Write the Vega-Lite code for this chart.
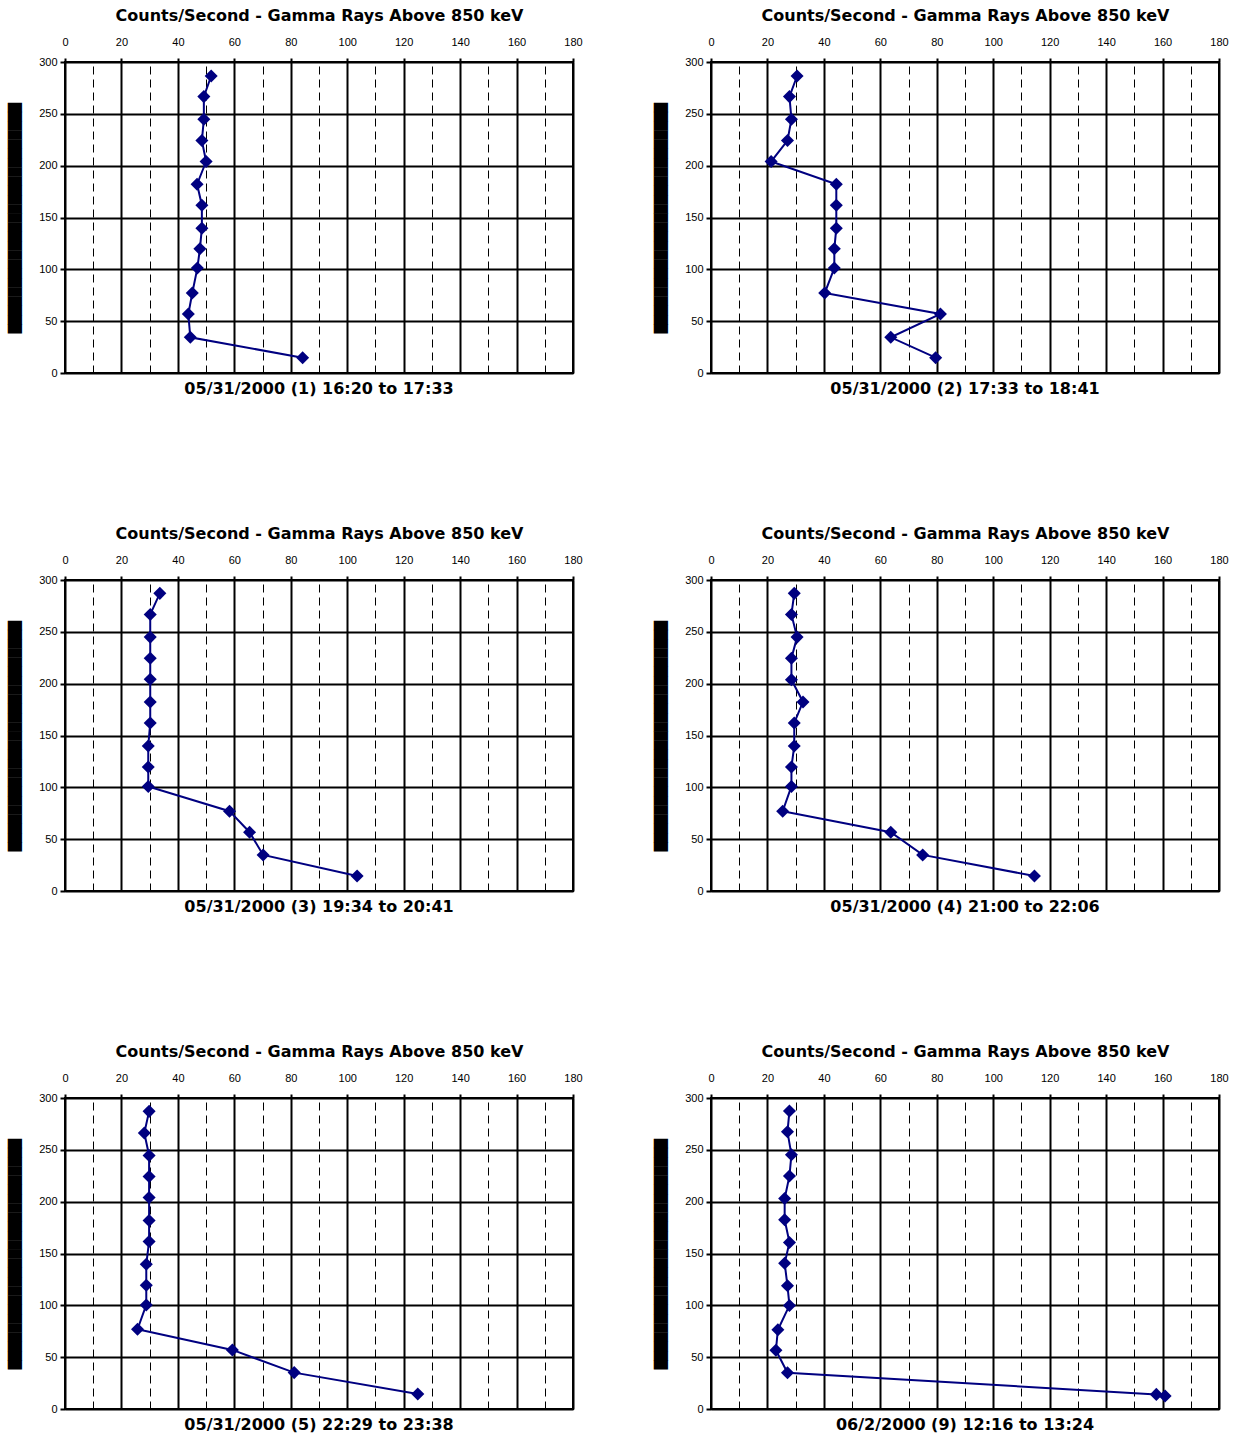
{
  "$schema": "https://vega.github.io/schema/vega-lite/v6.json",
  "background": "white",
  "padding": {"left": 7, "top": 6, "right": 5, "bottom": 2},
  "datasets": {
    "profiles": [
      {"panel": "05/31/2000 (1)  16:20 to 17:33", "seq": 1, "altitude": 286.5, "counts": 51.8},
      {"panel": "05/31/2000 (1)  16:20 to 17:33", "seq": 2, "altitude": 266.6, "counts": 49.2},
      {"panel": "05/31/2000 (1)  16:20 to 17:33", "seq": 3, "altitude": 244.8, "counts": 49.2},
      {"panel": "05/31/2000 (1)  16:20 to 17:33", "seq": 4, "altitude": 224.2, "counts": 48.5},
      {"panel": "05/31/2000 (1)  16:20 to 17:33", "seq": 5, "altitude": 204.0, "counts": 50.0},
      {"panel": "05/31/2000 (1)  16:20 to 17:33", "seq": 6, "altitude": 182.1, "counts": 46.8},
      {"panel": "05/31/2000 (1)  16:20 to 17:33", "seq": 7, "altitude": 161.9, "counts": 48.5},
      {"panel": "05/31/2000 (1)  16:20 to 17:33", "seq": 8, "altitude": 139.7, "counts": 48.5},
      {"panel": "05/31/2000 (1)  16:20 to 17:33", "seq": 9, "altitude": 119.8, "counts": 47.8},
      {"panel": "05/31/2000 (1)  16:20 to 17:33", "seq": 10, "altitude": 101.2, "counts": 46.9},
      {"panel": "05/31/2000 (1)  16:20 to 17:33", "seq": 11, "altitude": 77.1, "counts": 45.1},
      {"panel": "05/31/2000 (1)  16:20 to 17:33", "seq": 12, "altitude": 56.9, "counts": 43.7},
      {"panel": "05/31/2000 (1)  16:20 to 17:33", "seq": 13, "altitude": 34.4, "counts": 44.4},
      {"panel": "05/31/2000 (1)  16:20 to 17:33", "seq": 14, "altitude": 14.8, "counts": 84.2},

      {"panel": "05/31/2000 (2)  17:33 to 18:41", "seq": 1, "altitude": 286.5, "counts": 30.5},
      {"panel": "05/31/2000 (2)  17:33 to 18:41", "seq": 2, "altitude": 266.6, "counts": 27.8},
      {"panel": "05/31/2000 (2)  17:33 to 18:41", "seq": 3, "altitude": 244.8, "counts": 28.5},
      {"panel": "05/31/2000 (2)  17:33 to 18:41", "seq": 4, "altitude": 224.2, "counts": 27.1},
      {"panel": "05/31/2000 (2)  17:33 to 18:41", "seq": 5, "altitude": 204.0, "counts": 21.3},
      {"panel": "05/31/2000 (2)  17:33 to 18:41", "seq": 6, "altitude": 182.1, "counts": 44.4},
      {"panel": "05/31/2000 (2)  17:33 to 18:41", "seq": 7, "altitude": 161.9, "counts": 44.4},
      {"panel": "05/31/2000 (2)  17:33 to 18:41", "seq": 8, "altitude": 139.7, "counts": 44.4},
      {"panel": "05/31/2000 (2)  17:33 to 18:41", "seq": 9, "altitude": 119.8, "counts": 43.7},
      {"panel": "05/31/2000 (2)  17:33 to 18:41", "seq": 10, "altitude": 101.2, "counts": 43.7},
      {"panel": "05/31/2000 (2)  17:33 to 18:41", "seq": 11, "altitude": 77.1, "counts": 40.3},
      {"panel": "05/31/2000 (2)  17:33 to 18:41", "seq": 12, "altitude": 56.9, "counts": 81.3},
      {"panel": "05/31/2000 (2)  17:33 to 18:41", "seq": 13, "altitude": 34.4, "counts": 63.7},
      {"panel": "05/31/2000 (2)  17:33 to 18:41", "seq": 14, "altitude": 14.8, "counts": 79.6},

      {"panel": "05/31/2000 (3)  19:34 to 20:41", "seq": 1, "altitude": 287.1, "counts": 33.6},
      {"panel": "05/31/2000 (3)  19:34 to 20:41", "seq": 2, "altitude": 266.8, "counts": 30.2},
      {"panel": "05/31/2000 (3)  19:34 to 20:41", "seq": 3, "altitude": 244.9, "counts": 30.2},
      {"panel": "05/31/2000 (3)  19:34 to 20:41", "seq": 4, "altitude": 224.6, "counts": 30.2},
      {"panel": "05/31/2000 (3)  19:34 to 20:41", "seq": 5, "altitude": 204.3, "counts": 30.2},
      {"panel": "05/31/2000 (3)  19:34 to 20:41", "seq": 6, "altitude": 182.4, "counts": 30.2},
      {"panel": "05/31/2000 (3)  19:34 to 20:41", "seq": 7, "altitude": 162.1, "counts": 30.2},
      {"panel": "05/31/2000 (3)  19:34 to 20:41", "seq": 8, "altitude": 139.9, "counts": 29.5},
      {"panel": "05/31/2000 (3)  19:34 to 20:41", "seq": 9, "altitude": 119.6, "counts": 29.5},
      {"panel": "05/31/2000 (3)  19:34 to 20:41", "seq": 10, "altitude": 100.9, "counts": 29.5},
      {"panel": "05/31/2000 (3)  19:34 to 20:41", "seq": 11, "altitude": 77.0, "counts": 58.3},
      {"panel": "05/31/2000 (3)  19:34 to 20:41", "seq": 12, "altitude": 56.7, "counts": 65.4},
      {"panel": "05/31/2000 (3)  19:34 to 20:41", "seq": 13, "altitude": 34.8, "counts": 70.2},
      {"panel": "05/31/2000 (3)  19:34 to 20:41", "seq": 14, "altitude": 14.5, "counts": 103.5},

      {"panel": "05/31/2000 (4)  21:00 to 22:06", "seq": 1, "altitude": 287.1, "counts": 29.5},
      {"panel": "05/31/2000 (4)  21:00 to 22:06", "seq": 2, "altitude": 266.8, "counts": 28.5},
      {"panel": "05/31/2000 (4)  21:00 to 22:06", "seq": 3, "altitude": 244.9, "counts": 30.5},
      {"panel": "05/31/2000 (4)  21:00 to 22:06", "seq": 4, "altitude": 224.6, "counts": 28.5},
      {"panel": "05/31/2000 (4)  21:00 to 22:06", "seq": 5, "altitude": 203.7, "counts": 28.5},
      {"panel": "05/31/2000 (4)  21:00 to 22:06", "seq": 6, "altitude": 182.4, "counts": 32.6},
      {"panel": "05/31/2000 (4)  21:00 to 22:06", "seq": 7, "altitude": 162.1, "counts": 29.5},
      {"panel": "05/31/2000 (4)  21:00 to 22:06", "seq": 8, "altitude": 139.9, "counts": 29.5},
      {"panel": "05/31/2000 (4)  21:00 to 22:06", "seq": 9, "altitude": 119.6, "counts": 28.5},
      {"panel": "05/31/2000 (4)  21:00 to 22:06", "seq": 10, "altitude": 100.9, "counts": 28.5},
      {"panel": "05/31/2000 (4)  21:00 to 22:06", "seq": 11, "altitude": 77.0, "counts": 25.4},
      {"panel": "05/31/2000 (4)  21:00 to 22:06", "seq": 12, "altitude": 56.7, "counts": 63.7},
      {"panel": "05/31/2000 (4)  21:00 to 22:06", "seq": 13, "altitude": 34.8, "counts": 75.0},
      {"panel": "05/31/2000 (4)  21:00 to 22:06", "seq": 14, "altitude": 14.5, "counts": 114.6},

      {"panel": "05/31/2000 (5)  22:29 to 23:38", "seq": 1, "altitude": 287.1, "counts": 29.8},
      {"panel": "05/31/2000 (5)  22:29 to 23:38", "seq": 2, "altitude": 266.2, "counts": 28.1},
      {"panel": "05/31/2000 (5)  22:29 to 23:38", "seq": 3, "altitude": 244.6, "counts": 29.8},
      {"panel": "05/31/2000 (5)  22:29 to 23:38", "seq": 4, "altitude": 224.3, "counts": 29.8},
      {"panel": "05/31/2000 (5)  22:29 to 23:38", "seq": 5, "altitude": 204.1, "counts": 29.8},
      {"panel": "05/31/2000 (5)  22:29 to 23:38", "seq": 6, "altitude": 181.8, "counts": 29.8},
      {"panel": "05/31/2000 (5)  22:29 to 23:38", "seq": 7, "altitude": 161.6, "counts": 29.8},
      {"panel": "05/31/2000 (5)  22:29 to 23:38", "seq": 8, "altitude": 139.7, "counts": 28.8},
      {"panel": "05/31/2000 (5)  22:29 to 23:38", "seq": 9, "altitude": 119.4, "counts": 28.8},
      {"panel": "05/31/2000 (5)  22:29 to 23:38", "seq": 10, "altitude": 100.4, "counts": 28.8},
      {"panel": "05/31/2000 (5)  22:29 to 23:38", "seq": 11, "altitude": 76.9, "counts": 25.7},
      {"panel": "05/31/2000 (5)  22:29 to 23:38", "seq": 12, "altitude": 57.0, "counts": 59.3},
      {"panel": "05/31/2000 (5)  22:29 to 23:38", "seq": 13, "altitude": 35.1, "counts": 81.2},
      {"panel": "05/31/2000 (5)  22:29 to 23:38", "seq": 14, "altitude": 14.5, "counts": 125.0},

      {"panel": "06/2/2000 (9)  12:16 to 13:24", "seq": 1, "altitude": 287.5, "counts": 27.8},
      {"panel": "06/2/2000 (9)  12:16 to 13:24", "seq": 2, "altitude": 267.4, "counts": 27.1},
      {"panel": "06/2/2000 (9)  12:16 to 13:24", "seq": 3, "altitude": 245.3, "counts": 28.5},
      {"panel": "06/2/2000 (9)  12:16 to 13:24", "seq": 4, "altitude": 224.8, "counts": 27.8},
      {"panel": "06/2/2000 (9)  12:16 to 13:24", "seq": 5, "altitude": 203.0, "counts": 26.1},
      {"panel": "06/2/2000 (9)  12:16 to 13:24", "seq": 6, "altitude": 182.5, "counts": 26.1},
      {"panel": "06/2/2000 (9)  12:16 to 13:24", "seq": 7, "altitude": 160.7, "counts": 27.8},
      {"panel": "06/2/2000 (9)  12:16 to 13:24", "seq": 8, "altitude": 140.6, "counts": 26.1},
      {"panel": "06/2/2000 (9)  12:16 to 13:24", "seq": 9, "altitude": 118.8, "counts": 27.1},
      {"panel": "06/2/2000 (9)  12:16 to 13:24", "seq": 10, "altitude": 99.9, "counts": 27.8},
      {"panel": "06/2/2000 (9)  12:16 to 13:24", "seq": 11, "altitude": 76.5, "counts": 23.7},
      {"panel": "06/2/2000 (9)  12:16 to 13:24", "seq": 12, "altitude": 56.7, "counts": 23.0},
      {"panel": "06/2/2000 (9)  12:16 to 13:24", "seq": 13, "altitude": 34.9, "counts": 27.1},
      {"panel": "06/2/2000 (9)  12:16 to 13:24", "seq": 14, "altitude": 14.1, "counts": 157.8},
      {"panel": "06/2/2000 (9)  12:16 to 13:24", "seq": 15, "altitude": 12.5, "counts": 160.9}
    ]
  },
  "data": {"name": "profiles"},
  "facet": {
    "field": "panel",
    "type": "nominal",
    "sort": [
      "05/31/2000 (1)  16:20 to 17:33",
      "05/31/2000 (2)  17:33 to 18:41",
      "05/31/2000 (3)  19:34 to 20:41",
      "05/31/2000 (4)  21:00 to 22:06",
      "05/31/2000 (5)  22:29 to 23:38",
      "06/2/2000 (9)  12:16 to 13:24"
    ],
    "header": {
      "title": null,
      "labelOrient": "bottom",
      "labelFont": "DejaVu Sans",
      "labelFontWeight": "bold",
      "labelFontSize": 16,
      "labelColor": "black",
      "labelPadding": 3
    }
  },
  "columns": 2,
  "spacing": {"row": 126, "column": 69},
  "resolve": {"axis": {"x": "independent", "y": "independent"}},
  "spec": {
    "width": 508,
    "height": 311,
    "encoding": {
      "x": {
        "field": "counts",
        "type": "quantitative",
        "scale": {"domain": [0, 180], "nice": false},
        "axis": {
          "orient": "top",
          "values": [0, 10, 20, 30, 40, 50, 60, 70, 80, 90, 100, 110, 120, 130, 140, 150, 160, 170, 180],
          "labelExpr": "datum.value % 20 === 0 ? datum.label : ''",
          "labelFont": "Liberation Sans",
          "labelFontSize": 11,
          "labelColor": "black",
          "labelPadding": 11,
          "labelFlush": false,
          "labelOverlap": false,
          "tickSize": 4,
          "tickColor": "black",
          "tickWidth": 2,
          "tickOpacity": {"condition": {"test": "datum.value % 20 !== 0", "value": 0}, "value": 1},
          "domain": false,
          "grid": true,
          "gridColor": "black",
          "gridOpacity": 1,
          "gridWidth": {"condition": {"test": "datum.value % 20 !== 0", "value": 1}, "value": 2},
          "gridDash": {"condition": {"test": "datum.value % 20 !== 0", "value": [8, 5]}, "value": []},
          "title": "Counts/Second - Gamma Rays Above 850 keV",
          "titleFont": "DejaVu Sans",
          "titleFontWeight": "bold",
          "titleFontSize": 16,
          "titleColor": "black",
          "titlePadding": 13
        }
      },
      "y": {
        "field": "altitude",
        "type": "quantitative",
        "scale": {"domain": [0, 300], "nice": false},
        "axis": {
          "values": [0, 50, 100, 150, 200, 250, 300],
          "labelFont": "Liberation Sans",
          "labelFontSize": 11,
          "labelColor": "black",
          "labelPadding": 3,
          "tickSize": 5,
          "tickColor": "black",
          "tickWidth": 2,
          "domain": false,
          "grid": true,
          "gridColor": "black",
          "gridOpacity": 1,
          "gridWidth": 2,
          "title": "█████████████████████████",
          "titleFont": "DejaVu Sans",
          "titleFontWeight": "normal",
          "titleFontSize": 12,
          "titleColor": "black",
          "titlePadding": 17
        }
      }
    },
    "layer": [
      {
        "mark": {"type": "line", "color": "#000080", "strokeWidth": 2},
        "encoding": {"order": {"field": "seq", "type": "quantitative"}}
      },
      {
        "mark": {"type": "point", "shape": "diamond", "filled": true, "color": "#000080", "opacity": 1, "size": 170}
      }
    ]
  },
  "config": {
    "view": {"stroke": "black", "strokeWidth": 2}
  }
}
